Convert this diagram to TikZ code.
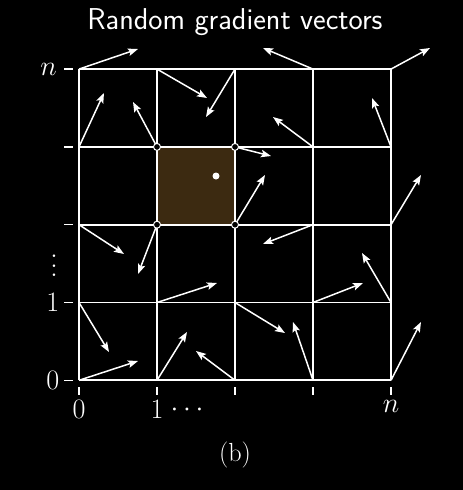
\documentclass[tikz,border=0pt]{standalone}
\usetikzlibrary{arrows.meta}
\definecolor{cellbrown}{RGB}{60,42,17}
\newcommand\LabScale[1]{\scalebox{1.13}{#1}}
\begin{document}
\begin{tikzpicture}[x=1pt,y=-1pt,
  gridline/.style={white,line width=1.8pt},
  vec/.style={white,line width=1.5pt,-{Stealth[length=10pt,width=7.5pt,inset=2pt]}},
  tickmark/.style={white,line width=1.4pt},
  lab/.style={text=white,inner sep=0pt,font=\fontsize{28}{34}\selectfont},
  corner/.style={circle,draw=white,fill=black,line width=1pt,inner sep=0pt,minimum size=7pt},
  pt/.style={circle,fill=white,inner sep=0pt,minimum size=7pt}]
\fill[black] (0,0) rectangle (463,490);
\useasboundingbox (0,0) rectangle (463,490);
\foreach \i in {0,...,4}{\foreach \j in {0,...,4}{
  \coordinate (v\i\j) at ({79+78*\i},{380.3-77.8*\j});}}
% highlighted cell
\fill[cellbrown] (v13) rectangle (v22);
% grid
\foreach \i in {0,...,4}{
  \draw[gridline] (v\i0) -- (v\i4);
  \draw[gridline] (v0\i) -- (v4\i);}
% ticks
\foreach \j in {0,...,4}{
  \draw[tickmark] ([xshift=-15pt]v0\j) -- ([xshift=-6pt]v0\j);}
\foreach \i in {0,...,4}{
  \draw[tickmark] ([yshift=-6.7pt]v\i0) -- ([yshift=-14.7pt]v\i0);}
% gradient vectors
\foreach \i/\j/\ex/\ey in {
  0/4/138/49, 1/4/207/98, 2/4/206/117, 3/4/263/48, 4/4/430/48,
  0/3/104/93, 1/3/133/102, 2/3/271/156, 3/3/273/117, 4/3/372/98,
  0/2/124/254, 1/2/138/274, 2/2/265/175, 3/2/263/244, 4/2/421/175,
  0/1/109/352, 1/1/217/283, 2/1/285/333, 3/1/363/283, 4/1/362/253,
  0/0/138/361, 1/0/187/332, 2/0/196/351, 3/0/293/322, 4/0/421/322}{
  \coordinate (e\i\j) at (\ex,\ey);
  \draw[vec] (v\i\j) -- (e\i\j);}
% cell corners and sample point
\foreach \c in {v13,v23,v12,v22}{\node[corner] (c\c) at (\c) {};}
\node[pt] (p) at (216,176) {};
% labels
\node[lab,anchor=east] (ln) at (57,69) {\LabScale{$n$}};
\node[lab,anchor=east] (l1) at (59.5,302.5) {\LabScale{$1$}};
\node[lab,anchor=east] (l0) at (59.5,380.3) {\LabScale{$0$}};
\node[lab] (lvd) at (54,266) {\LabScale{\vbox{\baselineskip=8.4pt\lineskiplimit=0pt\hbox{.}\hbox{.}\hbox{.}}}};
\node[lab,anchor=north] (b0) at (79,400.5) {\LabScale{$0$}};
\node[lab,anchor=north] (b1) at (157,400.5) {\LabScale{$1$}};
\node[lab] (bcd) at (187,410) {\LabScale{$\cdots$}};
\node[lab,anchor=north] (bn) at (391,400.5) {\LabScale{$n$}};
\node[text=white,inner sep=0pt,anchor=base,font=\fontsize{24}{28}\selectfont] (cap) at (235,461) {\scalebox{1.09}{(b)}};
\node[text=white,inner sep=0pt,anchor=base,font=\sffamily\fontsize{28.5}{34}\selectfont] (title) at (235,29) {\scalebox{1.058}{Random gradient vectors}};
\end{tikzpicture}
\end{document}
